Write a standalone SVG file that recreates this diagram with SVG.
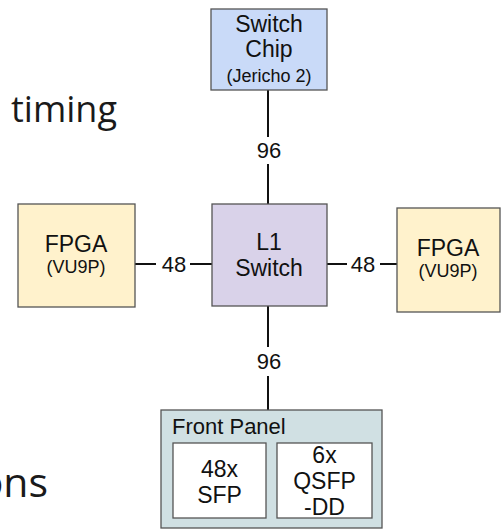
<svg xmlns="http://www.w3.org/2000/svg" width="502" height="530" viewBox="0 0 502 530">
<style>
.box{stroke:#555;stroke-width:1.3}
.t{font-family:"Liberation Sans",Arial,sans-serif;fill:#111;text-anchor:middle}
.big{font-size:23px}
.sm{font-size:18px}
.lbl{font-family:"Liberation Sans",Arial,sans-serif;font-size:22px;fill:#111;text-anchor:middle}
.conn line{stroke:#111;stroke-width:2}
.side{font-family:"Open Sans",sans-serif;fill:#1a1a1a}
</style>
<rect width="502" height="530" fill="#fff"/>
<text class="side" x="11" y="122" font-size="36">timing</text>
<text class="side" x="48" y="497" font-size="41" text-anchor="end">ons</text>
<g id="conns" class="conn">
<line x1="268" y1="90" x2="268" y2="137"/>
<line x1="268" y1="164" x2="268" y2="204"/>
<line x1="268" y1="306" x2="268" y2="347"/>
<line x1="268" y1="376" x2="268" y2="410"/>
<line x1="135" y1="264" x2="156" y2="264"/>
<line x1="190" y1="264" x2="212" y2="264"/>
<line x1="327" y1="264" x2="347" y2="264"/>
<line x1="380" y1="264" x2="397" y2="264"/>
<text class="lbl" x="269" y="158">96</text>
<text class="lbl" x="269" y="369">96</text>
<text class="lbl" x="174" y="272">48</text>
<text class="lbl" x="363" y="272">48</text>
</g>
<g id="switch-chip">
<rect class="box" x="211" y="9" width="116" height="81" fill="#c9daf8"/>
<text class="t big" x="269" y="32">Switch</text>
<text class="t big" x="269" y="57">Chip</text>
<text class="t sm" x="269" y="82">(Jericho 2)</text>
</g>
<g id="l1-switch">
<rect class="box" x="212" y="204" width="115" height="102" fill="#d9d2e9"/>
<text class="t big" x="269" y="250">L1</text>
<text class="t big" x="269" y="276">Switch</text>
</g>
<g id="fpga-left">
<rect class="box" x="18" y="204" width="117" height="103" fill="#fff2cc"/>
<text class="t big" x="76" y="252">FPGA</text>
<text class="t sm" x="76" y="273">(VU9P)</text>
</g>
<g id="fpga-right">
<rect class="box" x="397" y="208" width="103" height="104" fill="#fff2cc"/>
<text class="t big" x="448" y="256">FPGA</text>
<text class="t sm" x="448" y="277">(VU9P)</text>
</g>
<g id="front-panel">
<rect class="box" x="161" y="410" width="221" height="118" fill="#d0e0e3"/>
<text class="t" x="172" y="434" font-size="22" style="text-anchor:start">Front Panel</text>
<g id="sfp">
<rect class="box" x="173" y="443" width="93" height="75" fill="#fff"/>
<text class="t big" x="219.5" y="477">48x</text>
<text class="t big" x="219.5" y="503">SFP</text>
</g>
<g id="qsfp">
<rect class="box" x="277" y="443" width="95" height="75" fill="#fff"/>
<text class="t big" x="324.5" y="463">6x</text>
<text class="t big" x="324.5" y="489">QSFP</text>
<text class="t big" x="324.5" y="515">-DD</text>
</g>
</g>
</svg>
